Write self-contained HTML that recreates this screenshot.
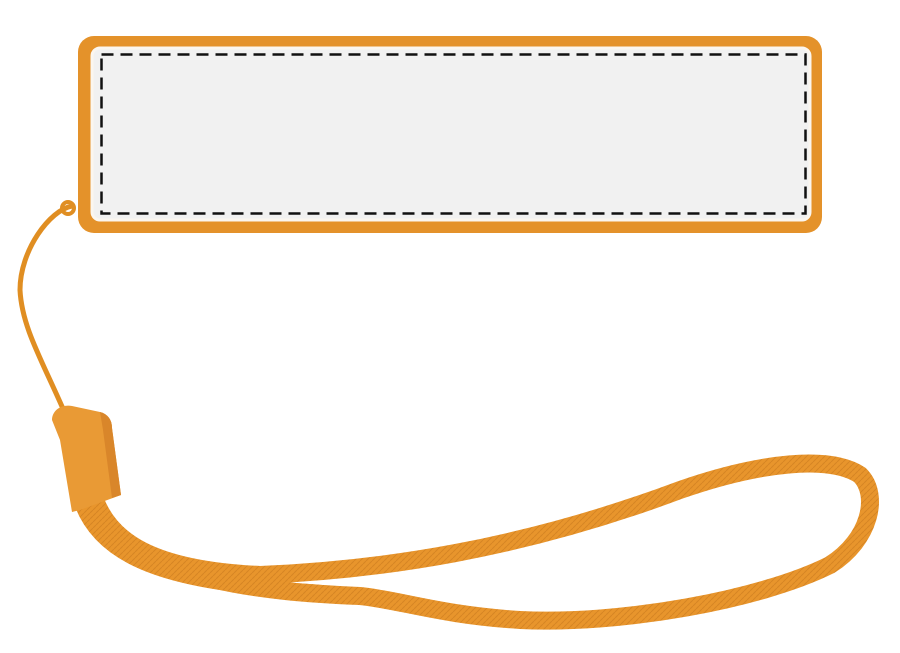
<!DOCTYPE html>
<html><head><style>html,body{margin:0;padding:0;background:#fff;width:900px;height:653px;overflow:hidden}</style></head>
<body>
<svg width="900" height="653" viewBox="0 0 900 653" xmlns="http://www.w3.org/2000/svg">
<defs>
<pattern id="weave" width="6" height="6" patternUnits="userSpaceOnUse">
<rect width="6" height="6" fill="#e8952c"/>
<path d="M0 3 L3 0 M3 6 L6 3" stroke="#c97a1e" stroke-width="1" opacity="0.6"/>
</pattern>
</defs>
<path d="M72 206 C50 210 20 250 20 290 C22 330 45 365 70 425" fill="none" stroke="#e08e22" stroke-width="5" stroke-linecap="round"/>
<circle cx="68" cy="208" r="6" fill="none" stroke="#e08e22" stroke-width="4"/>
<path d="M95 500 C110 540 150 570 260 575 C380 570 520 550 680 490 C760 462 830 455 860 475 C880 495 870 540 830 565 C760 600 620 625 520 620 C440 615 400 600 360 596 C260 592 150 580 105 520" fill="none" stroke="url(#weave)" stroke-width="18" stroke-linejoin="round"/>
<path d="M80 500 C95 545 140 578 265 588 C330 592 380 596 420 606" fill="none" stroke="url(#weave)" stroke-width="14"/>
<path d="M52 420 C52 410 62 404 72 406 L100 412 C108 414 112 420 112 428 L121 495 L80 510 L72 512 L60 440 Z" fill="#e99a35"/>
<path d="M100 412 C108 414 112 420 112 428 L121 495 L112 498 L103 430 Z" fill="#d9862a"/>
<rect x="78" y="36" width="744" height="197" rx="16" fill="#e4922a"/>
<rect x="92" y="48" width="718" height="172" rx="8" fill="#f1f1f1" stroke="#fbf6ef" stroke-width="3"/>
<rect x="101.5" y="54.5" width="704" height="159" fill="none" stroke="#111" stroke-width="2.5" stroke-dasharray="12 7"/>
</svg>
</body></html>
